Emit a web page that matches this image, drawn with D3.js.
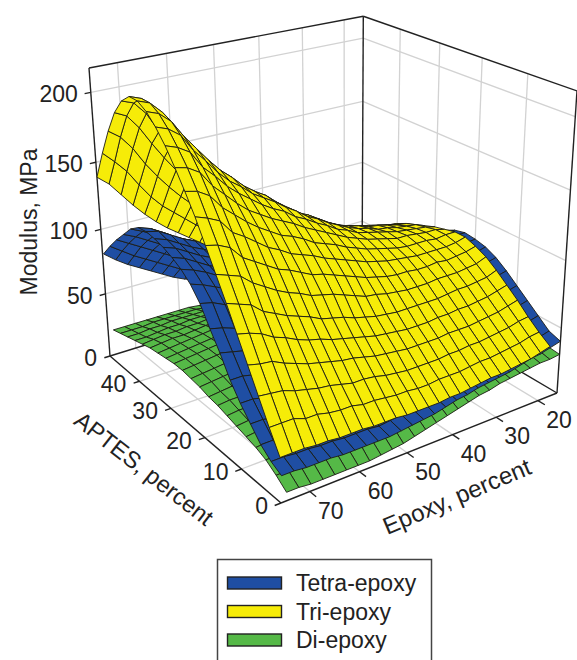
<!DOCTYPE html>
<html>
<head>
<meta charset="utf-8">
<script src="https://cdn.jsdelivr.net/npm/d3@7"></script>
<style>
  html, body { margin: 0; padding: 0; background: #fff; overflow: hidden; }
  text { font-family: "Liberation Sans", Arial, sans-serif; fill: #222; }
</style>
</head>
<body>
<div id="chart"></div>
<script>
// axis ticks
var modulusTicks = [0, 50, 100, 150, 200];
var aptesTicks = [0, 10, 20, 30, 40];
var epoxyTicks = [70, 60, 50, 40, 30, 20];

// grid the surfaces were sampled on: one row per epoxy step, one value per APTES step
var aptesGrid = d3.range(0, 50.1, 2.5);
var triEpoxyRange = [75.6, 17.8];
var tetraEpoxyRange = [75.4, 15.3];
var diEpoxyRange = [74.5, 15.3];

var legendNames = ["Tetra-epoxy", "Tri-epoxy", "Di-epoxy"];
var legendColors = ["#1f4ea3", "#f6ec08", "#55b947"];

// modulus, MPa
var triEpoxy = [
  [32,47,63,79,95,111,126,141,156,169,181,192,201,208,212,212,206,195,179,160,139],
  [32,47,62,77,93,108,123,139,153,167,179,189,198,205,209,209,203,191,173,152,132],
  [32,47,61,76,90,105,120,135,149,162,174,184,192,198,201,200,194,181,163,143,122],
  [31,44,58,72,85,98,113,126,139,152,163,172,180,186,189,187,180,168,150,131,112],
  [31,44,56,69,82,94,108,121,134,145,155,164,171,176,178,176,169,156,139,120,103],
  [30,42,54,66,78,90,103,116,128,138,147,155,161,166,167,164,157,145,129,111,95],
  [30,41,53,64,75,87,99,111,122,132,140,148,153,157,158,155,148,136,120,104,88],
  [30,41,51,62,73,84,96,108,118,127,135,142,147,150,150,147,139,127,112,97,82],
  [29,39,49,60,70,80,92,104,113,122,130,136,140,142,142,138,130,119,105,90,76],
  [29,39,49,59,68,78,90,100,110,119,126,131,135,136,135,131,123,112,98,84,70],
  [29,38,48,57,66,76,88,98,107,115,122,127,130,131,129,124,116,105,91,77,64],
  [28,37,46,55,64,73,85,95,103,110,117,121,124,124,121,116,108,98,85,72,60],
  [28,37,45,54,62,71,82,92,100,107,113,117,119,118,115,110,102,92,79,66,55],
  [28,36,44,53,61,69,79,89,97,104,109,112,113,112,109,103,96,86,74,62,51],
  [28,36,44,52,60,68,78,86,94,100,105,108,109,108,105,99,92,82,69,58,47],
  [29,37,44,52,59,67,76,84,91,97,101,103,104,103,100,95,87,77,65,54,45],
  [29,37,44,52,59,67,75,82,89,94,98,100,100,98,95,89,82,72,61,51,42],
  [30,37,45,52,59,67,74,81,87,92,95,96,96,94,90,85,77,68,58,49,40],
  [31,38,45,53,60,67,74,81,86,90,93,94,93,91,87,81,74,65,56,47,38],
  [32,39,46,53,60,67,74,80,85,88,91,92,91,89,85,79,72,64,55,46,37],
  [32,39,46,53,61,68,75,80,84,87,89,90,88,86,83,78,71,63,54,45,36],
  [33,40,47,54,61,69,75,81,84,87,89,88,87,85,81,76,69,61,52,43,34],
  [34,41,48,55,62,69,75,80,84,87,88,87,85,83,79,74,67,59,51,42,33],
  [35,42,49,56,63,70,76,81,84,86,87,86,84,81,77,72,65,58,49,41,32],
  [37,44,51,58,65,71,77,82,85,87,87,85,83,80,76,70,63,56,48,39,31],
  [39,45,52,60,67,74,80,84,87,87,85,83,80,76,71,66,59,52,45,37,30]
];

var tetraEpoxy = [
  [19,23,29,38,47,58,72,84,97,106,112,116,119,121,122,121,116,108,100,91,81],
  [19,23,29,38,47,58,70,82,95,103,109,113,116,118,120,118,112,104,95,85,74],
  [18,22,28,36,45,56,68,79,91,99,105,108,111,113,115,113,107,99,90,79,68],
  [18,22,27,35,44,54,65,76,87,95,100,103,106,108,110,107,102,94,85,74,63],
  [18,21,27,34,42,52,62,72,83,90,95,99,102,104,106,103,98,90,80,69,58],
  [17,21,26,33,41,50,60,70,80,87,92,95,98,100,102,99,93,85,75,64,53],
  [17,20,25,32,39,48,57,67,76,83,88,91,94,96,97,94,88,80,70,59,48],
  [17,20,25,31,38,46,55,64,73,79,84,87,89,91,92,89,83,74,65,54,44],
  [17,20,24,30,37,45,53,62,70,76,80,83,86,87,88,85,79,70,61,51,41],
  [17,19,23,29,36,43,51,59,67,73,78,81,83,85,85,81,75,67,57,47,37],
  [18,20,24,29,35,42,50,58,65,71,75,78,80,82,82,78,72,63,54,44,34],
  [19,21,25,30,35,42,50,57,64,69,73,76,78,80,79,75,69,60,51,41,32],
  [20,22,26,31,36,43,50,57,64,68,72,75,77,78,77,73,67,58,49,39,30],
  [21,24,28,33,38,44,51,58,64,68,72,74,76,77,75,71,65,56,47,37,28],
  [23,25,29,33,39,45,52,58,64,68,71,74,75,76,74,70,63,55,45,35,26],
  [25,27,31,36,41,47,53,59,65,69,72,74,75,76,73,69,62,53,44,34,25],
  [26,28,32,37,42,48,54,60,65,69,72,74,76,75,72,68,61,52,43,33,24],
  [28,30,33,38,43,49,55,61,66,70,73,75,77,75,72,67,60,51,42,33,24],
  [29,31,35,40,45,51,57,62,67,71,74,76,78,75,72,67,59,50,41,32,23],
  [30,32,36,41,47,52,58,63,68,72,75,78,79,76,72,67,59,50,41,32,23],
  [31,34,39,44,50,56,62,67,72,75,78,79,78,75,70,64,57,48,40,31,23],
  [33,36,41,46,53,59,65,70,74,77,80,80,78,74,69,62,55,47,38,31,23],
  [35,38,43,49,56,62,68,73,77,80,82,81,77,72,66,59,52,45,37,30,22],
  [36,39,45,52,59,66,72,77,80,82,83,80,75,69,62,55,49,42,36,29,22],
  [38,41,48,55,62,69,75,79,82,84,82,79,74,67,60,53,47,41,35,29,22],
  [40,43,50,57,64,71,77,81,83,84,82,78,72,66,58,52,46,40,34,28,22]
];

var diEpoxy = [
  [6,12,17,20,22,24,26,28,29,31,32,33,33,32,31,30,28,26,24,22,20],
  [6,12,17,21,23,25,27,29,30,32,33,34,34,33,32,31,29,26,24,22,20],
  [5,12,17,21,23,25,27,29,31,33,34,35,35,34,33,32,30,27,25,22,20],
  [5,12,18,21,24,26,28,30,32,34,35,36,36,35,34,32,30,28,25,23,20],
  [5,12,18,22,24,26,29,31,32,35,36,37,37,36,35,33,31,28,26,23,20],
  [5,12,19,22,24,27,29,32,33,36,37,38,38,37,36,34,31,29,26,23,20],
  [5,12,19,22,25,27,30,32,34,37,38,39,39,38,36,34,32,29,26,23,20],
  [5,13,19,23,26,28,31,33,35,38,39,40,40,39,37,35,32,29,26,23,20],
  [6,13,19,23,26,29,31,34,36,39,40,41,41,40,38,35,32,29,26,22,19],
  [7,14,20,24,27,30,32,35,37,40,41,42,42,41,38,36,33,29,26,22,19],
  [8,15,21,25,28,31,33,35,38,40,41,42,42,41,38,36,33,29,26,22,19],
  [10,16,22,26,30,32,35,37,39,41,42,43,43,41,39,36,33,29,25,22,18],
  [12,18,24,28,31,33,35,38,40,41,42,43,43,41,39,36,32,29,25,21,18],
  [14,20,25,29,31,34,36,38,40,41,42,43,43,41,39,36,32,29,25,21,18],
  [16,21,26,30,32,34,37,39,40,41,42,43,43,41,39,36,32,29,25,21,18],
  [18,23,27,30,33,35,37,39,40,41,42,43,42,41,38,35,32,28,25,21,18],
  [20,24,28,31,33,35,37,39,40,41,42,43,42,40,38,35,31,28,24,20,17],
  [22,25,29,31,34,36,37,39,40,41,42,42,41,40,37,35,31,28,24,20,17],
  [23,26,30,32,34,36,38,39,40,41,42,42,41,39,37,34,31,27,24,20,17],
  [25,28,30,33,35,36,38,39,40,41,41,41,40,39,37,34,30,27,24,20,17],
  [26,28,31,33,35,36,37,39,39,40,40,40,39,38,36,33,30,26,23,19,16],
  [27,29,31,33,35,36,37,38,39,39,39,39,38,37,35,33,29,26,23,19,16],
  [28,30,32,34,35,36,37,37,38,38,38,38,37,36,34,32,29,25,22,19,16],
  [29,31,32,34,35,36,36,37,37,37,37,37,36,35,33,31,28,25,22,18,15],
  [29,31,32,34,34,35,36,36,36,36,36,36,35,34,33,30,27,24,21,18,15],
  [30,31,32,33,34,35,35,35,35,35,35,35,34,33,31,29,27,24,21,18,15]
];

var svgWidth = 577;
var svgHeight = 660;

var svg = d3.select("#chart")
  .append("svg")
  .attr("width", svgWidth)
  .attr("height", svgHeight);

// data to unit cube
var aptesScale = d3.scaleLinear().domain([0, 50]).range([0, 1]);
var epoxyScale = d3.scaleLinear().domain([75.6, 15.3]).range([0, 1]);
var modulusScale = d3.scaleLinear().domain([0, 217]).range([0, 1]);

// perspective camera, fitted to the corners of the box in the picture
function depth(u, v, w) {
  return 1 + 0.20367 * u + 0.14012 * v - 0.0985 * w;
}
function project(u, v, w) {
  var d = depth(u, v, w);
  return [
    (281 - 148.6 * u + 354.05 * v - 34.04 * w) / d,
    (503 - 74.49 * u - 54.93 * v - 353.36 * w) / d
  ];
}

var line = d3.line();

function drawSegment(g, a, b) {
  g.append("path").attr("d", line([project(a[0], a[1], a[2]), project(b[0], b[1], b[2])]));
}

// grid on the two walls and the floor
var grid = svg.append("g")
  .attr("fill", "none")
  .attr("stroke", "#d2d2d2")
  .attr("stroke-width", 1.3);

epoxyTicks.forEach(function(t) {
  var v = epoxyScale(t);
  drawSegment(grid, [1, v, 0], [1, v, 1]);
  drawSegment(grid, [0, v, 0], [1, v, 0]);
});
aptesTicks.slice(1).forEach(function(t) {
  var u = aptesScale(t);
  drawSegment(grid, [u, 1, 0], [u, 1, 1]);
  drawSegment(grid, [u, 0, 0], [u, 1, 0]);
});
modulusTicks.slice(1).forEach(function(t) {
  var w = modulusScale(t);
  drawSegment(grid, [1, 0, w], [1, 1, w]);
  drawSegment(grid, [0, 1, w], [1, 1, w]);
});

// box outline
var box = svg.append("g")
  .attr("fill", "none")
  .attr("stroke", "#222")
  .attr("stroke-width", 1.4);

[
  [[1, 0, 0], [1, 0, 1]],
  [[1, 0, 1], [1, 1, 1]],
  [[1, 1, 1], [0, 1, 1]],
  [[0, 1, 1], [0, 1, 0]],
  [[1, 1, 0], [1, 1, 1]],
  [[1, 0, 0], [1, 1, 0]],
  [[1, 1, 0], [0, 1, 0]],
  [[1, 0, 0], [0, 0, 0]],
  [[0, 0, 0], [0, 1, 0]]
].forEach(function(e) { drawSegment(box, e[0], e[1]); });

// ticks
modulusTicks.forEach(function(t) {
  drawSegment(box, [1, 0, modulusScale(t)], [1, -0.02, modulusScale(t)]);
});
aptesTicks.forEach(function(t) {
  drawSegment(box, [aptesScale(t), 0, 0], [aptesScale(t), -0.02, 0]);
});
epoxyTicks.forEach(function(t) {
  drawSegment(box, [0, epoxyScale(t), 0], [-0.03, epoxyScale(t), 0]);
});

// surfaces, each one painted back to front
function drawSurface(rows, epoxyRange, color) {
  var rowScale = d3.scaleLinear().domain([0, rows.length - 1]).range(epoxyRange);
  var cells = [];
  for (var j = 0; j < rows.length - 1; j++) {
    for (var i = 0; i < aptesGrid.length - 1; i++) {
      var corners = [[i, j], [i + 1, j], [i + 1, j + 1], [i, j + 1]].map(function(c) {
        return [aptesScale(aptesGrid[c[0]]), epoxyScale(rowScale(c[1])), modulusScale(rows[c[1]][c[0]])];
      });
      cells.push({
        corners: corners,
        depth: d3.mean(corners, function(c) { return depth(c[0], c[1], c[2]); })
      });
    }
  }
  cells.sort(function(a, b) { return b.depth - a.depth; });

  svg.append("g")
    .selectAll("path")
    .data(cells)
    .enter()
    .append("path")
    .attr("d", function(d) {
      return line(d.corners.map(function(c) { return project(c[0], c[1], c[2]); })) + "Z";
    })
    .attr("fill", color)
    .attr("stroke", "#1c1c14")
    .attr("stroke-width", 0.9)
    .attr("stroke-linejoin", "round");
}

drawSurface(diEpoxy, diEpoxyRange, legendColors[2]);
drawSurface(tetraEpoxy, tetraEpoxyRange, legendColors[0]);
drawSurface(triEpoxy, triEpoxyRange, legendColors[1]);

// tick labels
var labels = svg.append("g").attr("font-size", 23);

labels.selectAll("text.modulus")
  .data(modulusTicks)
  .enter()
  .append("text")
  .attr("text-anchor", "end")
  .attr("x", function(d) { return project(1, 0, modulusScale(d))[0] - 13; })
  .attr("y", function(d) { return project(1, 0, modulusScale(d))[1] + 10; })
  .text(function(d) { return d; });

labels.selectAll("text.aptes")
  .data(aptesTicks)
  .enter()
  .append("text")
  .attr("text-anchor", "end")
  .attr("x", function(d) { return project(aptesScale(d), 0, 0)[0] - 13; })
  .attr("y", function(d) { return project(aptesScale(d), 0, 0)[1] + 11; })
  .text(function(d) { return d; });

labels.selectAll("text.epoxy")
  .data(epoxyTicks)
  .enter()
  .append("text")
  .attr("text-anchor", "middle")
  .attr("x", function(d) { return project(0, epoxyScale(d), 0)[0] + 21; })
  .attr("y", function(d) { return project(0, epoxyScale(d), 0)[1] + 27; })
  .text(function(d) { return d; });

// axis titles
svg.append("text")
  .attr("transform", "translate(37, 222) rotate(-90)")
  .attr("text-anchor", "middle")
  .attr("font-size", 23)
  .text("Modulus, MPa");

svg.append("text")
  .attr("transform", "translate(139, 475) rotate(38)")
  .attr("text-anchor", "middle")
  .attr("font-size", 23.5)
  .text("APTES, percent");

svg.append("text")
  .attr("transform", "translate(460, 504) rotate(-23)")
  .attr("text-anchor", "middle")
  .attr("font-size", 24)
  .text("Epoxy, percent");

// legend
svg.append("rect")
  .attr("x", 217.5)
  .attr("y", 559.5)
  .attr("width", 214)
  .attr("height", 120)
  .attr("fill", "#fff")
  .attr("stroke", "#444")
  .attr("stroke-width", 1.5);

var legend = svg.selectAll("g.legend")
  .data(legendNames)
  .enter()
  .append("g")
  .attr("class", "legend")
  .attr("transform", function(d, i) { return "translate(0," + (583 + i * 28.5) + ")"; });

legend.append("rect")
  .attr("x", 227.5)
  .attr("y", -6)
  .attr("width", 54)
  .attr("height", 12)
  .attr("fill", function(d, i) { return legendColors[i]; })
  .attr("stroke", "#222")
  .attr("stroke-width", 1.4);

legend.append("text")
  .attr("x", 296)
  .attr("y", 8)
  .attr("font-size", 23)
  .text(function(d) { return d; });
</script>
</body>
</html>
